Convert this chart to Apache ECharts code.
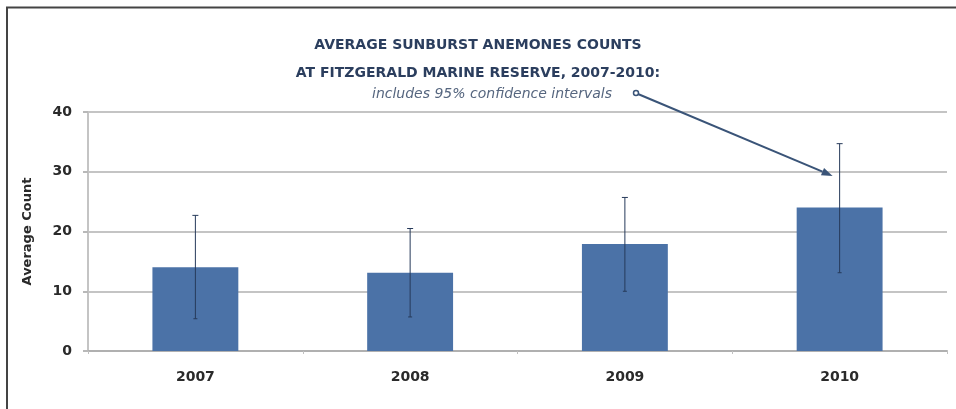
<!DOCTYPE html>
<html>
<head>
<meta charset="utf-8">
<script src="https://cdn.jsdelivr.net/npm/echarts@6/dist/echarts.min.js"></script>
<style>
  html, body { margin: 0; padding: 0; background: #fff; }
  #chart { width: 956px; height: 409px; }
</style>
</head>
<body>
<div id="chart"></div>
<script>
const years = ["2007", "2008", "2009", "2010"];
const averageCounts = [14, 13.1, 17.9, 24];
const ciLow = [5.4, 5.7, 10, 13.1];
const ciHigh = [22.7, 20.5, 25.7, 34.7];
const yTicks = [0, 10, 20, 30, 40];

const chart = echarts.init(document.getElementById("chart"));

const errorData = years.map(function (y, i) { return [i, ciLow[i], ciHigh[i]]; });

chart.setOption({
    animation: false,
    backgroundColor: "#ffffff",
    grid: { left: 88, right: 9, top: 112, bottom: 58, containLabel: false },
    xAxis: {
        type: "category",
        data: years,
        axisLine: { lineStyle: { color: "#b0b0b0", width: 2 } },
        axisTick: { show: true, length: 3, lineStyle: { color: "#c0c0c0" } },
        axisLabel: { color: "#2a2a2a", fontFamily: "DejaVu Sans", fontWeight: "bold", fontSize: 14, margin: 19 }
    },
    yAxis: {
        type: "value",
        min: yTicks[0],
        max: yTicks[yTicks.length - 1],
        interval: 10,
        name: "Average Count",
        nameLocation: "middle",
        nameGap: 54,
        nameTextStyle: { color: "#2a2a2a", fontFamily: "DejaVu Sans", fontWeight: "bold", fontSize: 13 },
        axisLine: { show: true, lineStyle: { color: "#c4c4c4", width: 2 } },
        axisTick: { show: true, length: 5, lineStyle: { color: "#b8b8b8", width: 2 } },
        axisLabel: { color: "#2a2a2a", fontFamily: "DejaVu Sans", fontWeight: "bold", fontSize: 14, margin: 16 },
        splitLine: { lineStyle: { color: "#c4c4c4", width: 2 } }
    },
    series: [
        {
            type: "bar",
            data: averageCounts,
            barWidth: "40%",
            itemStyle: { color: "#4b72a7" }
        },
        {
            type: "custom",
            data: errorData,
            z: 5,
            renderItem: function (params, api) {
                const x = api.value(0);
                const lo = api.coord([x, api.value(1)]);
                const hi = api.coord([x, api.value(2)]);
                const style = { stroke: "#263a5a", lineWidth: 1 };
                return {
                    type: "group",
                    children: [
                        { type: "line", shape: { x1: hi[0], y1: hi[1], x2: lo[0], y2: lo[1] }, style: style },
                        { type: "line", shape: { x1: hi[0] - 3, y1: hi[1], x2: hi[0] + 3, y2: hi[1] }, style: style },
                        { type: "line", shape: { x1: lo[0] - 2, y1: lo[1], x2: lo[0] + 2, y2: lo[1] }, style: style }
                    ]
                };
            }
        }
    ]
});

// annotation arrow pointing at the 2010 confidence interval
const tip = chart.convertToPixel({ seriesIndex: 0 }, ["2010", 29.3]);
const start = [636, 93];
const endX = tip[0] - 7;
const endY = tip[1];
const ang = Math.atan2(endY - start[1], endX - start[0]);
const hl = 11, hw = 4;
const bx = endX - hl * Math.cos(ang), by = endY - hl * Math.sin(ang);

chart.setOption({
    graphic: [
        { type: "line", shape: { x1: 6, y1: 7.5, x2: 956, y2: 7.5 }, style: { stroke: "#444", lineWidth: 2 } },
        { type: "line", shape: { x1: 7, y1: 7, x2: 7, y2: 409 }, style: { stroke: "#444", lineWidth: 2 } },
        {
            type: "text", left: "center", top: 38,
            style: { text: "AVERAGE SUNBURST ANEMONES COUNTS", fill: "#2b3e5e", font: "bold 14px 'DejaVu Sans'", textAlign: "center" }
        },
        {
            type: "text", left: "center", top: 66,
            style: { text: "AT FITZGERALD MARINE RESERVE, 2007-2010:", fill: "#2b3e5e", font: "bold 14px 'DejaVu Sans'", textAlign: "center" }
        },
        {
            type: "text", x: 372, y: 87,
            style: { text: "includes 95% confidence intervals", fill: "#56667f", font: "italic 14px 'DejaVu Sans'" }
        },
        { type: "circle", shape: { cx: start[0], cy: start[1], r: 2.5 }, style: { fill: "#fff", stroke: "#3a5478", lineWidth: 1.5 } },
        { type: "line", shape: { x1: start[0] + 2, y1: start[1] + 1, x2: bx, y2: by }, style: { stroke: "#3a5478", lineWidth: 2 } },
        {
            type: "polygon",
            shape: { points: [[endX, endY], [bx + hw * Math.sin(ang), by - hw * Math.cos(ang)], [bx - hw * Math.sin(ang), by + hw * Math.cos(ang)]] },
            style: { fill: "#3a5478" }
        }
    ]
});

window.addEventListener("resize", function () {
    chart.resize();
});
</script>
</body>
</html>
